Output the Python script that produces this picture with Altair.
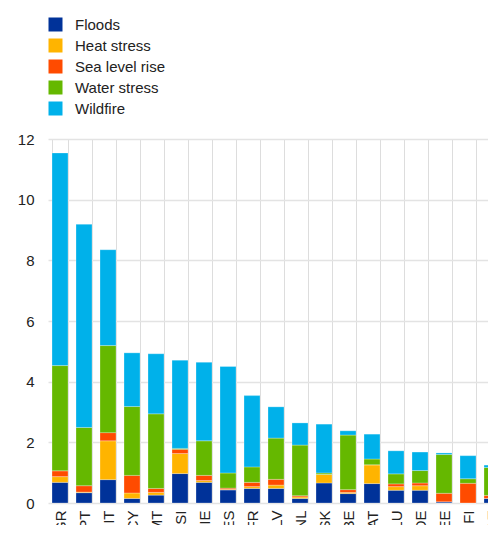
import altair as alt
import pandas as pd

countries = ["GR", "PT", "IT", "CY", "MT", "SI", "IE", "ES", "FR", "LV",
             "NL", "SK", "BE", "AT", "LU", "DE", "EE", "FI", "LT"]
floods = [0.68, 0.34, 0.77, 0.15, 0.26, 0.97, 0.68, 0.43, 0.48, 0.48,
          0.15, 0.66, 0.31, 0.64, 0.42, 0.42, 0.04, 0.00, 0.15]
heat_stress = [0.19, 0.02, 1.28, 0.18, 0.09, 0.66, 0.06, 0.02, 0.06, 0.11,
               0.05, 0.28, 0.04, 0.62, 0.12, 0.15, 0.00, 0.00, 0.00]
sea_level_rise = [0.19, 0.21, 0.27, 0.58, 0.13, 0.14, 0.17, 0.04, 0.14, 0.19,
                  0.04, 0.00, 0.09, 0.00, 0.09, 0.09, 0.28, 0.65, 0.10]
water_stress = [3.47, 1.92, 2.87, 2.27, 2.46, 0.03, 1.14, 0.50, 0.51, 1.36,
                1.67, 0.05, 1.80, 0.19, 0.33, 0.41, 1.28, 0.15, 0.92]
wildfire = [7.01, 6.70, 3.16, 1.77, 1.98, 2.91, 2.59, 3.51, 2.35, 1.03,
            0.73, 1.61, 0.14, 0.82, 0.76, 0.61, 0.05, 0.76, 0.08]

series_names = ["Floods", "Heat stress", "Sea level rise", "Water stress", "Wildfire"]
series_colors = ["#003299", "#FFB400", "#FF4B00", "#65B800", "#00B1EA"]
series_values = [floods, heat_stress, sea_level_rise, water_stress, wildfire]

rows = []
for k, (name, vals) in enumerate(zip(series_names, series_values)):
    for c, v in zip(countries, vals):
        rows.append({"country": c, "hazard": name, "value": v, "order": k})
df = pd.DataFrame(rows)

font = "Liberation Sans"

chart = alt.Chart(df).mark_bar(
    stroke="white", strokeWidth=0.6, strokeOpacity=0.45
).encode(
    x=alt.X("country:N", sort=countries, title=None,
            scale=alt.Scale(paddingInner=1/3, paddingOuter=1/6, range=[0, 456]),
            axis=alt.Axis(labelAngle=270, labelAlign="right", labelBaseline="middle",
                          labelPadding=7, labelFontSize=15, labelColor="#222222",
                          labelFont=font, ticks=False, domain=False, grid=True,
                          tickBand="extent", gridColor="#dddddd", gridWidth=1)),
    y=alt.Y("value:Q", title=None, stack="zero",
            scale=alt.Scale(domain=[0, 12], nice=False),
            axis=alt.Axis(values=[0, 2, 4, 6, 8, 10, 12], labelFontSize=15,
                          labelColor="#222222", labelFont=font, labelPadding=14,
                          ticks=False, domain=False, gridColor="#e3e3e3", gridWidth=1.5)),
    color=alt.Color("hazard:N",
                    scale=alt.Scale(domain=series_names, range=series_colors),
                    legend=alt.Legend(title=None, orient="none", legendX=0, legendY=-122,
                                      direction="vertical", symbolType="square",
                                      symbolSize=196, symbolStrokeWidth=0,
                                      labelFontSize=15, labelFont=font,
                                      labelColor="#222222", labelOffset=12,
                                      rowPadding=5)),
    order=alt.Order("order:Q", sort="ascending"),
).properties(
    width=440, height=364,
    autosize=alt.AutoSizeParams(type="none"),
    padding={"left": 40, "top": 131, "right": 0, "bottom": 22},
).configure_view(stroke=None)

chart.save("out.html", embed_options={"renderer": "svg", "actions": False})
